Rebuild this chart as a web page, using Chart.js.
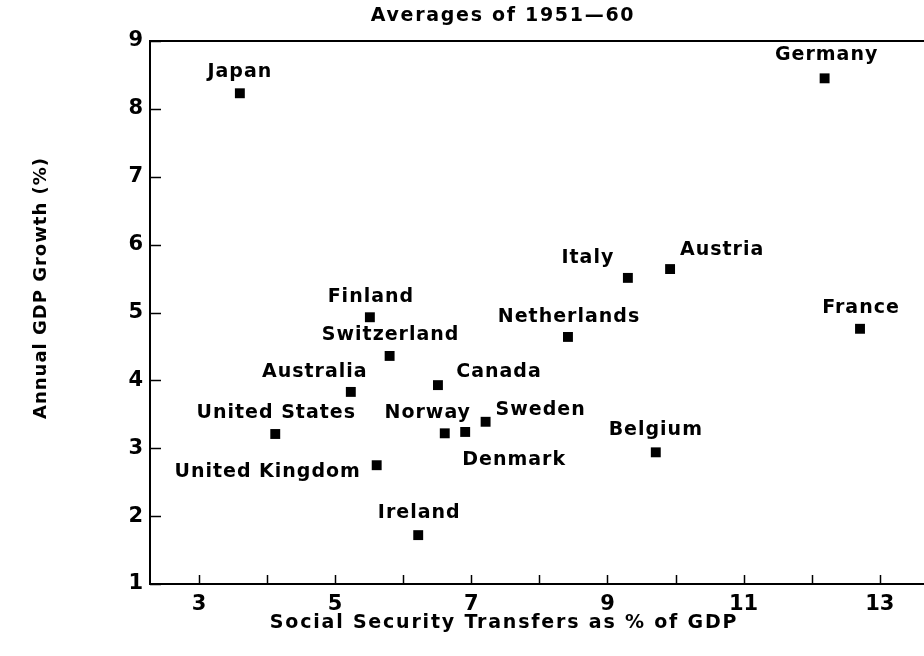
<!DOCTYPE html>
<html>
<head>
<meta charset="utf-8">
<script src="https://cdn.jsdelivr.net/npm/chart.js@4.4.0/dist/chart.umd.min.js"></script>
<style>
  html, body { margin: 0; padding: 0; background: #fff; }
  #wrap { width: 924px; height: 656px; position: relative; }
</style>
</head>
<body>
<div id="wrap"><canvas id="chart"></canvas></div>
<script>
// ------------------------
// DATA
// ------------------------
const countries = [
  "Japan", "Germany", "Italy", "Austria", "France", "Netherlands",
  "Finland", "Switzerland", "Australia", "Canada", "United States",
  "Norway", "Denmark", "Sweden", "United Kingdom", "Belgium", "Ireland"
];
const transfers = [3.6, 12.19, 9.3, 9.92, 12.71, 8.42, 5.51, 5.8, 5.23, 6.51, 4.12, 6.61, 6.91, 7.21, 5.61, 9.71, 6.22];
const growth    = [8.23, 8.45, 5.51, 5.64, 4.76, 4.64, 4.93, 4.36, 3.83, 3.93, 3.21, 3.22, 3.24, 3.39, 2.75, 2.94, 1.72];

const xLabelled = [3, 5, 7, 9, 11, 13];
const titleText = "Averages of 1951\u201460";
const xTitle = "Social Security Transfers as % of GDP";
const yTitle = "Annual GDP Growth (%)";

// label placement relative to the marker (px)
const labelOffset = {
  "Japan": [0, -16], "Germany": [2, -18], "Italy": [-40, -15], "Austria": [52, -14],
  "France": [1, -16], "Netherlands": [1, -15], "Finland": [1, -15], "Switzerland": [1, -16],
  "Australia": [-36, -15], "Canada": [61, -8], "United States": [1, -16], "Norway": [-17, -15],
  "Denmark": [49, 33], "Sweden": [55, -7], "United Kingdom": [-109, 12], "Belgium": [0, -17],
  "Ireland": [1, -17]
};

const FONT = "'DejaVu Sans', sans-serif";

// ------------------------
// PLUGINS
// ------------------------
const frameAndTicks = {
  id: "frameAndTicks",
  afterDraw(chart) {
    const { ctx, chartArea: a, scales: { x, y } } = chart;
    ctx.save();
    ctx.strokeStyle = "#000";
    ctx.lineWidth = 1.5;
    x.ticks.forEach(t => {
      const px = Math.round(x.getPixelForValue(t.value)) + 0.5;
      ctx.beginPath(); ctx.moveTo(px, a.bottom); ctx.lineTo(px, a.bottom - 9); ctx.stroke();
    });
    y.ticks.forEach(t => {
      const py = Math.round(y.getPixelForValue(t.value)) + 0.5;
      ctx.beginPath(); ctx.moveTo(a.left, py); ctx.lineTo(a.left + 11, py); ctx.stroke();
    });
    ctx.lineWidth = 2;
    ctx.beginPath(); ctx.moveTo(a.left - 1, a.top); ctx.lineTo(a.right, a.top); ctx.stroke();
    ctx.restore();
  }
};

const textLayer = {
  id: "textLayer",
  afterDatasetsDraw(chart) {
    const { ctx } = chart;
    const meta = chart.getDatasetMeta(0);
    ctx.save();
    ctx.fillStyle = "#000";
    ctx.textAlign = "center";
    ctx.textBaseline = "alphabetic";
    ctx.letterSpacing = "1px";
    ctx.font = "bold 19px " + FONT;
    meta.data.forEach((pt, i) => {
      const off = labelOffset[countries[i]] || [0, -16];
      ctx.fillText(countries[i], pt.x + off[0], pt.y + off[1]);
    });

    // titles
    ctx.letterSpacing = "1.7px";
    ctx.fillText(titleText, 503, 21);
    ctx.letterSpacing = "1.8px";
    ctx.fillText(xTitle, 504, 628);
    ctx.letterSpacing = "1px";
    ctx.font = "bold 18px " + FONT;
    ctx.translate(46, 288);
    ctx.rotate(-Math.PI / 2);
    ctx.fillText(yTitle, 0, 0);
    ctx.restore();
  }
};

// ------------------------
// CHART
// ------------------------
new Chart(document.getElementById("chart"), {
  type: "scatter",
  data: {
    datasets: [{
      data: transfers.map((v, i) => ({ x: v, y: growth[i] })),
      pointStyle: "rect",
      pointRadius: 7,
      pointHoverRadius: 7,
      borderWidth: 0,
      backgroundColor: "#000",
      borderColor: "#000"
    }]
  },
  options: {
    responsive: true,
    maintainAspectRatio: false,
    animation: false,
    events: [],
    layout: { autoPadding: false, padding: { top: 41, right: 0, left: 0, bottom: 0 } },
    plugins: { legend: { display: false }, tooltip: { enabled: false }, title: { display: false } },
    scales: {
      x: {
        type: "linear",
        min: 2.28,
        max: 13.65,
        grid: { display: false, drawTicks: false },
        border: { display: true, color: "#000", width: 2 },
        ticks: {
          stepSize: 1,
          includeBounds: false,
          autoSkip: false,
          maxRotation: 0,
          padding: 8,
          color: "#000",
          font: { family: FONT, size: 21, weight: "bold" },
          callback: v => xLabelled.includes(v) ? String(v) : ""
        },
        afterFit: s => { s.height = 72; s.paddingLeft = 0; s.paddingRight = 0; }
      },
      y: {
        type: "linear",
        min: 1,
        max: 9,
        grid: { display: false, drawTicks: false },
        border: { display: true, color: "#000", width: 2 },
        ticks: {
          stepSize: 1,
          padding: 7,
          color: "#000",
          font: { family: FONT, size: 21, weight: "bold" }
        },
        afterFit: s => { s.width = 150; s.paddingTop = 0; s.paddingBottom = 0; }
      }
    }
  },
  plugins: [frameAndTicks, textLayer]
});
</script>
</body>
</html>
